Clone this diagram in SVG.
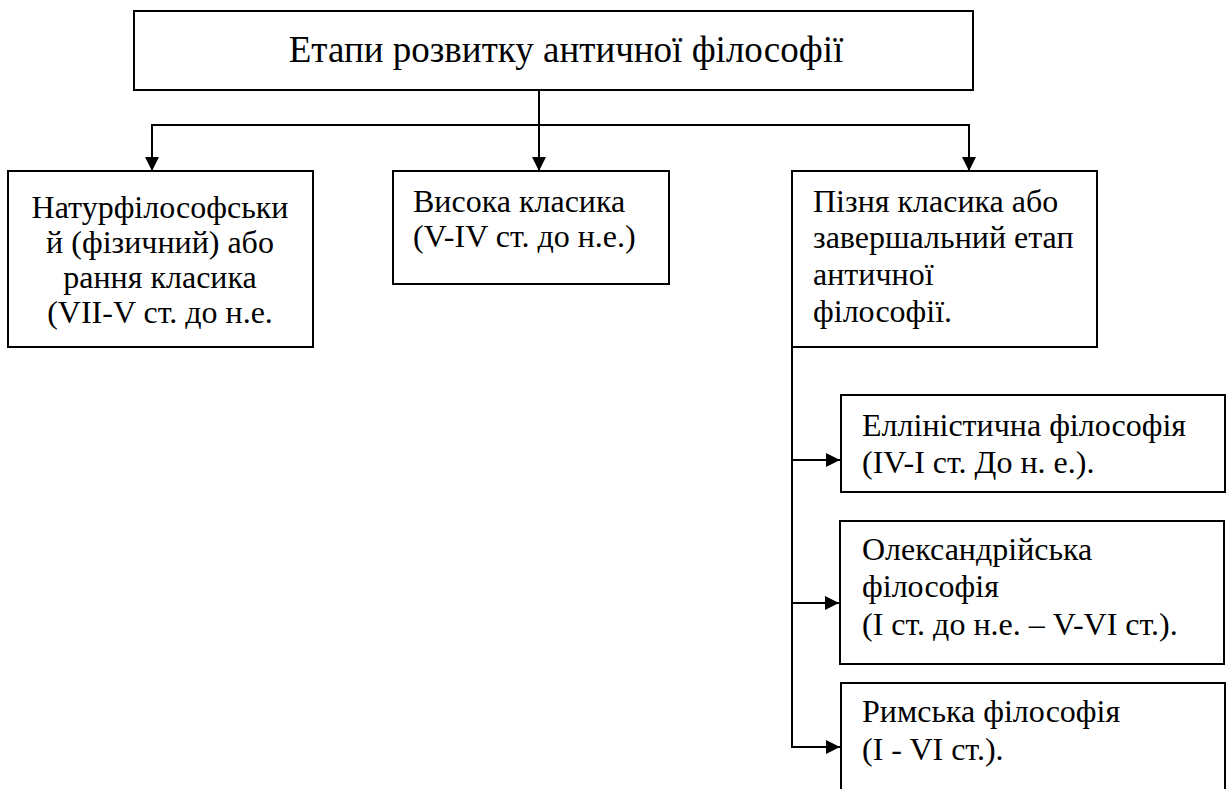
<svg xmlns="http://www.w3.org/2000/svg" width="1229" height="789" viewBox="0 0 1229 789">
<style>
.box{fill:#fff;stroke:#000;stroke-width:2}
.t{font-family:'Liberation Serif','DejaVu Serif',serif;font-size:32px;fill:#000}
.c{fill:none;stroke:#000;stroke-width:2}
</style>
<defs>
<marker id="ah" viewBox="0 0 14 14" refX="14" refY="7" markerWidth="14" markerHeight="14" markerUnits="userSpaceOnUse" orient="auto">
<path d="M0,0 L14,7 L0,14 Z" fill="#000"/>
</marker>
</defs>
<rect width="1229" height="789" fill="#fff"/>
<g id="root">
<rect class="box" x="134" y="11" width="839" height="79"/>
<text class="t" x="566" y="62" text-anchor="middle" font-family="Liberation Serif" style="font-size:37px">Етапи розвитку античної філософії</text>
</g>
<g id="n1">
<rect class="box" x="8" y="171" width="305" height="176"/>
<text class="t" x="160" y="218" text-anchor="middle">Натурфілософськи</text>
<text class="t" x="160" y="253" text-anchor="middle">й (фізичний) або</text>
<text class="t" x="160" y="288" text-anchor="middle">рання класика</text>
<text class="t" x="160" y="323" text-anchor="middle">(VII-V ст. до н.е.</text>
</g>
<g id="n2">
<rect class="box" x="393" y="171" width="276" height="113"/>
<text class="t" x="413" y="212">Висока класика</text>
<text class="t" x="413" y="247">(V-IV ст. до н.е.)</text>
</g>
<g id="n3">
<rect class="box" x="792" y="171" width="305" height="176"/>
<text class="t" x="813" y="212">Пізня класика або</text>
<text class="t" x="813" y="248">завершальний етап</text>
<text class="t" x="813" y="285">античної</text>
<text class="t" x="813" y="322">філософії.</text>
</g>
<g id="n4">
<rect class="box" x="841" y="395" width="384" height="97"/>
<text class="t" x="862" y="436">Елліністична філософія</text>
<text class="t" x="862" y="473">(IV-I ст. До н. е.).</text>
</g>
<g id="n5">
<rect class="box" x="840" y="521" width="384" height="143"/>
<text class="t" x="862" y="560">Олександрійська</text>
<text class="t" x="862" y="597">філософія</text>
<text class="t" x="862" y="635">(I ст. до н.е. – V-VI ст.).</text>
</g>
<g id="n6">
<path class="c" d="M841,795 V683 H1225 V795"/>
<text class="t" x="862" y="722">Римська філософія</text>
<text class="t" x="862" y="760">(I - VI ст.).</text>
</g>
<g id="connectors">
<path class="c" d="M539,90 V171" marker-end="url(#ah)"/>
<path class="c" d="M152,125 H969"/>
<path class="c" d="M152,124 V171" marker-end="url(#ah)"/>
<path class="c" d="M969,124 V171" marker-end="url(#ah)"/>
<path class="c" d="M792,347 V748"/>
<path class="c" d="M791,460 H840" marker-end="url(#ah)"/>
<path class="c" d="M791,603 H839" marker-end="url(#ah)"/>
<path class="c" d="M791,747 H840" marker-end="url(#ah)"/>
</g>
</svg>
